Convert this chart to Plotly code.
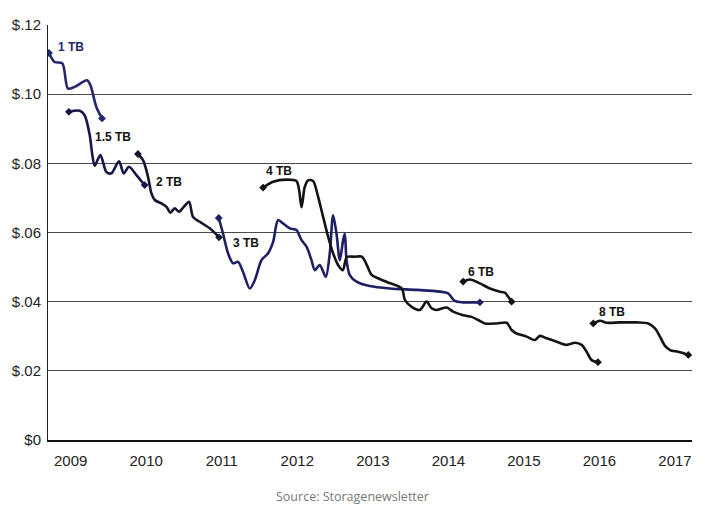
import plotly.graph_objects as go

# ---- data (decimal year, $ per GB) ----
tb1_x = [2008.713, 2008.788, 2008.890, 2008.964, 2009.053, 2009.216, 2009.261, 2009.340, 2009.415]
tb1_y = [0.1119, 0.1093, 0.1089, 0.1016, 0.1021, 0.1040, 0.1026, 0.0963, 0.0930]

tb15_x = [2008.977, 2009.119, 2009.185, 2009.252, 2009.287, 2009.318, 2009.393, 2009.473, 2009.539,
          2009.640, 2009.702, 2009.772, 2009.870, 2009.980]
tb15_y = [0.0949, 0.0952, 0.0939, 0.0882, 0.0824, 0.0793, 0.0824, 0.0775, 0.0771,
          0.0806, 0.0771, 0.0790, 0.0766, 0.0737]

tb2_x = [2009.891, 2009.958, 2010.024, 2010.069, 2010.113, 2010.201, 2010.268, 2010.321, 2010.377,
         2010.434, 2010.497, 2010.567, 2010.620, 2010.709, 2010.841, 2010.964]
tb2_y = [0.0827, 0.0809, 0.0761, 0.0713, 0.0694, 0.0684, 0.0674, 0.0657, 0.0670,
         0.0660, 0.0674, 0.0689, 0.0645, 0.0631, 0.0612, 0.0586]

tb3_x = [2010.960, 2011.017, 2011.083, 2011.150, 2011.216, 2011.282, 2011.371, 2011.437, 2011.526,
         2011.613, 2011.680, 2011.746, 2011.812, 2011.901, 2011.989, 2012.056, 2012.122, 2012.188,
         2012.232, 2012.298, 2012.377, 2012.430, 2012.474, 2012.519, 2012.563, 2012.607, 2012.629,
         2012.652, 2012.695, 2012.784, 2012.960, 2013.225, 2013.579, 2013.887, 2013.997, 2014.086,
         2014.196, 2014.417]
tb3_y = [0.0642, 0.0597, 0.0540, 0.0511, 0.0515, 0.0486, 0.0438, 0.0462, 0.0520,
         0.0540, 0.0573, 0.0636, 0.0626, 0.0612, 0.0607, 0.0578, 0.0559, 0.0520,
         0.0491, 0.0506, 0.0472, 0.0540, 0.0650, 0.0597, 0.0520, 0.0578, 0.0597,
         0.0520, 0.0477, 0.0458, 0.0445, 0.0438, 0.0434, 0.0429, 0.0424, 0.0402,
         0.0398, 0.0398]

tb4_x = [2011.547, 2011.680, 2011.857, 2011.989, 2012.024, 2012.056, 2012.099, 2012.143, 2012.209,
         2012.276, 2012.342, 2012.408, 2012.474, 2012.540, 2012.603, 2012.656, 2012.762, 2012.854,
         2012.921, 2012.987, 2013.185, 2013.384, 2013.424, 2013.513, 2013.623, 2013.711, 2013.778,
         2013.844, 2013.976, 2014.064, 2014.196, 2014.307, 2014.395, 2014.483, 2014.638, 2014.771,
         2014.837, 2014.903, 2015.036, 2015.146, 2015.212, 2015.301, 2015.433, 2015.566, 2015.676,
         2015.764, 2015.830, 2015.897, 2015.980]
tb4_y = [0.0730, 0.0747, 0.0753, 0.0749, 0.0723, 0.0673, 0.0732, 0.0751, 0.0749,
         0.0703, 0.0645, 0.0588, 0.0540, 0.0506, 0.0491, 0.0529, 0.0530, 0.0530,
         0.0506, 0.0477, 0.0457, 0.0438, 0.0405, 0.0385, 0.0376, 0.0400, 0.0381,
         0.0376, 0.0383, 0.0371, 0.0361, 0.0356, 0.0347, 0.0337, 0.0337, 0.0339,
         0.0318, 0.0308, 0.0299, 0.0289, 0.0301, 0.0294, 0.0284, 0.0275, 0.0281,
         0.0275, 0.0255, 0.0231, 0.0225]

tb6_x = [2014.196, 2014.285, 2014.417, 2014.550, 2014.682, 2014.748, 2014.792, 2014.837]
tb6_y = [0.0458, 0.0464, 0.0453, 0.0438, 0.0429, 0.0426, 0.0414, 0.0400]

tb8_x = [2015.918, 2016.007, 2016.095, 2016.272, 2016.493, 2016.646, 2016.735, 2016.801, 2016.868,
         2016.934, 2017.044, 2017.176]
tb8_y = [0.0337, 0.0345, 0.0339, 0.0340, 0.0340, 0.0337, 0.0323, 0.0299, 0.0272,
         0.0260, 0.0255, 0.0246]

series = [
    ("1 TB", tb1_x, tb1_y, "#26266e"),
    ("1.5 TB", tb15_x, tb15_y, "#16164a"),
    ("2 TB", tb2_x, tb2_y, "#151530"),
    ("3 TB", tb3_x, tb3_y, "#1f1f66"),
    ("4 TB", tb4_x, tb4_y, "#141414"),
    ("6 TB", tb6_x, tb6_y, "#141414"),
    ("8 TB", tb8_x, tb8_y, "#141414"),
]

labels = ["1 TB", "1.5 TB", "2 TB", "3 TB", "4 TB", "6 TB", "8 TB"]
label_x = [2008.80, 2009.30, 2010.103, 2011.128, 2011.556, 2014.232, 2015.963]
label_y = [0.1136, 0.0875, 0.0745, 0.0570, 0.0778, 0.0485, 0.0369]
label_colors = ["#26266e", "#111111", "#111111", "#111111", "#111111", "#111111", "#111111"]

y_ticks = [0, 0.02, 0.04, 0.06, 0.08, 0.10, 0.12]
y_ticktext = ["$0", "$.02", "$.04", "$.06", "$.08", "$.10", "$.12"]
x_ticks = [2009, 2010, 2011, 2012, 2013, 2014, 2015, 2016, 2017]
x_ticktext = [str(v) for v in x_ticks]

fig = go.Figure()
for name, xs, ys, col in series:
    fig.add_trace(go.Scatter(x=xs, y=ys, mode="lines", name=name,
                             line=dict(color=col, width=2.6, shape="spline", smoothing=0.8),
                             hoverinfo="skip", showlegend=False))
    fig.add_trace(go.Scatter(x=[xs[0], xs[-1]], y=[ys[0], ys[-1]], mode="markers",
                             marker=dict(symbol="diamond", size=6, color=col),
                             hoverinfo="skip", showlegend=False))

for t, lx, ly, lc in zip(labels, label_x, label_y, label_colors):
    fig.add_annotation(x=lx, y=ly, text="<b>" + t + "</b>", showarrow=False,
                       xanchor="left", yanchor="middle",
                       font=dict(family="Liberation Sans, Arial, sans-serif", size=12, color=lc))

fig.add_annotation(x=0.4736, y=-0.137, xref="paper", yref="paper", text="Source: Storagenewsletter",
                   showarrow=False, xanchor="center", yanchor="middle",
                   font=dict(family="Open Sans, Noto Sans, sans-serif", size=12.5, color="#777777"))

fig.update_layout(
    width=717, height=510,
    margin=dict(l=48, r=25, t=25, b=70),
    paper_bgcolor="white", plot_bgcolor="white",
    xaxis=dict(range=[2008.70, 2017.225], tickvals=x_ticks, ticktext=x_ticktext,
               showgrid=False, zeroline=False, showline=True, linecolor="#111111", linewidth=1.5,
               ticks="", ticklabelstandoff=6,
               tickfont=dict(family="Liberation Sans Narrow, Arial Narrow, Liberation Sans, sans-serif",
                             size=15, color="#222222")),
    yaxis=dict(range=[0, 0.12], tickvals=y_ticks, ticktext=y_ticktext,
               showgrid=True, gridcolor="#4a4a4a", gridwidth=1, zeroline=False,
               showline=True, linecolor="#222222", linewidth=1, ticks="", ticklabelstandoff=3,
               tickfont=dict(family="Liberation Sans Narrow, Arial Narrow, Liberation Sans, sans-serif",
                             size=15, color="#222222")),
)

fig.write_html("out.html", config={"displayModeBar": False},
               post_script="document.body.style.margin='0';")
